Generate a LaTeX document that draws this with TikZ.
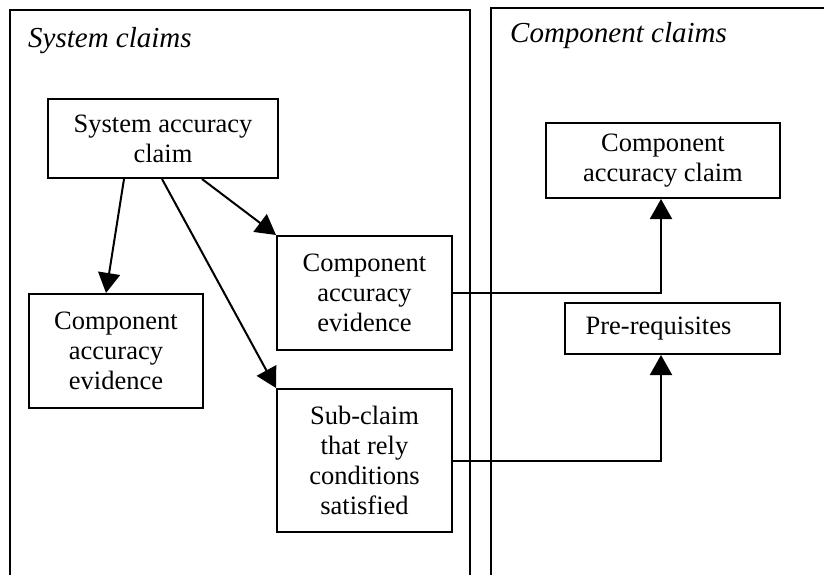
\documentclass[tikz,border=0pt]{standalone}
\usepackage{fontspec}
\setmainfont{Liberation Serif}
\usetikzlibrary{arrows.meta}
\begin{document}
\begin{tikzpicture}[x=1pt,y=-1pt,
  every node/.style={font=\fontsize{26.5}{30}\selectfont},
  box/.style={draw,line width=2pt,rectangle,inner sep=0pt,align=center},
  title/.style={font=\fontsize{29}{32}\selectfont\itshape,anchor=base west,inner sep=0pt},
  panel/.style={line width=2pt},
  conn/.style={line width=2pt,-{Triangle[length=20pt,width=22pt]}}
]
\useasboundingbox (0,0) rectangle (824,575);
% panels
\draw[panel] (10,590) -- (10,10) -- (470,10) -- (470,590);
\draw[panel] (491,590) -- (491,8) -- (840,8);
\node[title] (tsys) at (28,48) {System claims};
\node[title] (tcomp) at (510,43) {Component claims};
% boxes
\node[box,minimum width=230pt,minimum height=79pt] (sac) at (163,138.5) {System accuracy\\claim};
\node[box,minimum width=174pt,minimum height=114pt] (lcae) at (116,351) {Component\\accuracy\\evidence};
\node[box,minimum width=175pt,minimum height=114pt] (mcae) at (364.5,293) {Component\\accuracy\\evidence};
\node[box,minimum width=175pt,minimum height=143pt] (sub) at (364.5,460.5) {Sub-claim\\that rely\\conditions\\satisfied};
\node[box,minimum width=234pt,minimum height=75pt] (cac) at (663,160.5) {Component\\accuracy claim};
\node[box,minimum width=215pt,minimum height=51pt] (pre) at (672.5,328.5) {\raisebox{4pt}{Pre-requisites}\hspace{28pt}};
% connectors
\draw[conn] ([xshift=77pt]sac.south west) -- ([xshift=78pt]lcae.north west);
\draw[conn] ([xshift=115pt]sac.south west) -- (sub.north west);
\draw[conn] ([xshift=155pt]sac.south west) -- (mcae.north west);
\draw[conn] (mcae.east) -| ([xshift=-2pt]cac.south);
\draw[conn] (sub.east) -| ([xshift=-11.5pt]pre.south);
\end{tikzpicture}
\end{document}
